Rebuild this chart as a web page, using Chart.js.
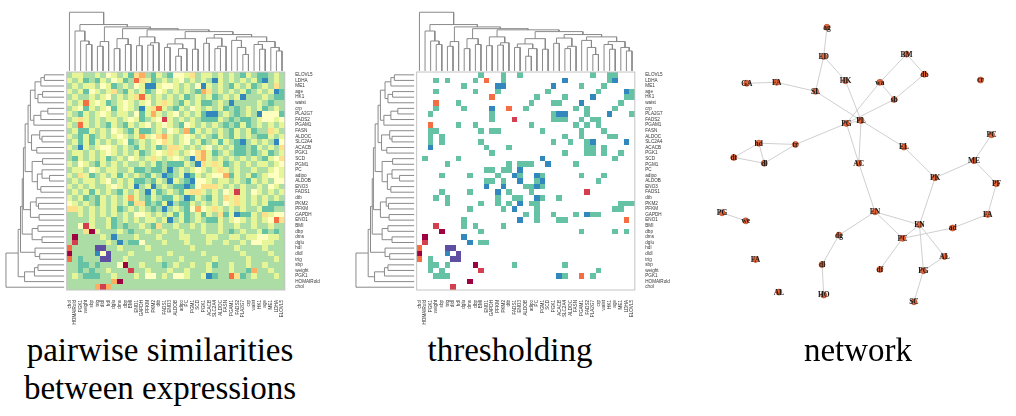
<!DOCTYPE html>
<html>
<head>
<meta charset="utf-8">
<script src="https://cdn.jsdelivr.net/npm/chart.js@4.4.1/dist/chart.umd.min.js"></script>
<style>
  html, body { margin: 0; padding: 0; background: #fff; }
  body { width: 1016px; height: 416px; position: relative; overflow: hidden; }
  canvas { position: absolute; }
  .cap { position: absolute; font-family: "Liberation Serif", "Times New Roman", serif; font-size: 33px;
         line-height: 38px; color: #000; text-align: center; white-space: nowrap; }
</style>
</head>
<body>
<canvas id="simChart" width="340" height="330" style="left:0px;top:0px"></canvas>
<canvas id="thrChart" width="340" height="330" style="left:350px;top:0px"></canvas>
<canvas id="netChart" width="356" height="320" style="left:660px;top:0px"></canvas>
<div class="cap" style="left:0px;width:320px;top:331px">pairwise similarities<br>between expressions</div>
<div class="cap" style="left:410px;width:200px;top:331px">thresholding</div>
<div class="cap" style="left:758px;width:200px;top:331px">network</div>
<script>
// row labels, top to bottom (columns run the other way)
var labels = ["ELOVL5","LDHA","ME1","age","HK1","waist","crp","PLA2G7","FADS2","PGAM1",
  "FASN","ALDOC","SLC2A4","ACACB","PGK1","SCD","PGM1","PC","adipo","ALDOB","ENO3","FADS1",
  "dtb","PKM2","PFKM","GAPDH","ENO1","BMI","dbp","dms","dglu","hdl","dldl","trig","sbp",
  "weight","PGK1","HOMAIRold","chol"];
var colLabels = labels.slice().reverse();

// spectral colour levels 0..a
var palette = ["#9E0142","#D53E4F","#F46D43","#FDAE61","#FEE08B","#FFFFBF",
  "#E6F598","#ABDDA4","#66C2A5","#3288BD","#5E4FA2"];

// similarity levels per row (one char per column, spaces only for reading)
var similarity = [
  "76677 67567 68437 86785 56476 67676 78678 8767",
  "67687 86756 87246 87676 57676 79676 76768 9767",
  "76766 75687 67569 96556 76759 67678 67687 6747",
  "67685 67647 86768 75676 76783 47676 76876 7698",
  "76776 76576 76426 76767 68767 68767 69777 6788",
  "67626 56876 56765 76467 86768 87679 77776 7877",
  "76586 76586 56796 42678 67567 67687 87676 8767",
  "67867 65676 67586 36765 76768 99767 87679 5558",
  "76467 67667 65687 65167 67678 88678 78876 5565",
  "67267 67867 86765 76567 85676 76787 86876 7676",
  "76886 76756 78688 76756 73867 67678 67687 7467",
  "67868 76765 67636 54367 65676 78678 67678 8676",
  "76868 67676 58767 65467 65768 76867 89767 6795",
  "67967 65567 67867 68744 67676 57676 88786 7674",
  "76676 76567 67687 65646 76543 68767 88787 6876",
  "78676 76876 75676 46765 67943 67676 76767 8654",
  "67567 86767 67767 68788 86794 64687 67676 6765",
  "76675 67667 76887 88797 67656 76467 67767 7656",
  "67468 76768 67678 67987 69867 65538 67687 6556",
  "76766 76576 76887 86796 78955 67667 67867 6755",
  "67676 77656 76976 97678 89854 44676 76776 7567",
  "76768 67678 67679 68767 86446 76756 16756 7676",
  "67687 86767 63678 67886 79867 86746 46767 6767",
  "56767 86767 68448 78697 88676 76756 46767 6888",
  "44676 76768 76767 87976 78535 64676 76776 8877",
  "77676 76767 67556 76768 68768 67486 98867 4655",
  "77776 77687 67676 67697 68767 88676 56767 6524",
  "77516 77687 87767 84776 77676 77677 67767 7677",
  "77740 67776 78776 77677 67776 77678 76776 8787",
  "70777 76797 77677 76777 66777 66776 67665 5667",
  "71777 77679 78857 77677 76777 67767 76755 6677",
  "27777 aa776 77776 77777 77677 77777 67777 6777",
  "07777 95a77 76777 77767 77776 77777 76777 7677",
  "27877 7aa77 67777 76777 67777 76777 77677 7767",
  "77887 87775 07767 77876 77677 68776 77677 6777",
  "77878 77677 71776 77767 76777 67776 77837 7677",
  "76788 87767 77675 57675 56776 98772 48767 7767",
  "77777 77730 77777 77777 77777 77777 77777 7777",
  "77777 31377 77777 77777 77777 77777 77777 7777"
];

// kept cells after thresholding, per row: "column:level"
var thresholded = [
  "11:8 15:8 18:8 31:8 34:8 35:8",
  "3:8 5:8 10:8 12:2 15:8 26:9 34:8 35:9",
  "8:8 14:9 15:9 24:9 29:8 33:8",
  "3:8 10:8 14:8 23:8 32:8 37:9 38:8",
  "13:2 21:8 26:8 31:9 37:8 38:8",
  "3:2 7:8 20:8 24:8 25:8 29:9 36:8",
  "3:8 8:8 13:9 16:2 19:8 28:8 30:8 35:8",
  "2:8 13:8 24:8 25:9 26:9 30:8 34:9 38:8",
  "13:8 17:1 24:8 25:8 26:8 29:8 31:8 32:8",
  "2:2 7:8 10:8 20:8 28:8 30:8 32:8",
  "2:8 3:8 11:8 13:8 14:8 22:8 29:8 33:8",
  "2:8 4:8 26:8 29:8 34:8 35:8",
  "2:8 4:8 11:8 24:8 27:8 30:8 31:9 37:9",
  "2:9 12:8 16:8 30:8 31:8 33:8",
  "13:8 26:8 30:8 31:8 33:8 36:8",
  "1:8 7:8 22:9 35:8",
  "5:8 16:8 18:8 19:8 20:8 23:9 28:8",
  "12:8 13:8 15:8 16:8 18:9",
  "4:8 9:8 14:8 17:9 18:8 21:9 22:8 29:8 33:8",
  "12:8 13:8 15:8 18:9 21:8 22:9 32:8",
  "12:9 15:9 19:8 20:8 21:9 22:8",
  "4:8 9:8 14:9 16:8 20:8 30:1",
  "3:8 5:8 14:8 17:8 18:8 21:9 22:8 25:8",
  "5:8 11:8 14:8 16:8 18:9 20:8 21:8 36:8 37:8 38:8",
  "9:8 15:8 17:9 21:8 35:8 36:8",
  "19:8 21:8 24:8 28:8 30:9 31:8 32:8",
  "8:8 18:9 21:8 25:8 26:8 37:2",
  "3:1 8:8 10:8 15:8",
  "4:0 11:8 29:8 35:8 37:8",
  "1:0 8:9",
  "1:1 9:9 11:8 12:8",
  "0:2 5:a 6:a",
  "0:0 5:9 7:a",
  "0:2 2:8 6:a 7:a",
  "2:8 3:8 5:8 10:0 17:8 26:8",
  "2:8 4:8 11:1 32:8",
  "3:8 4:8 5:8 25:9 26:8 29:2 31:8",
  "9:0",
  "6:1"
];

// clustering tree over column positions: [left, right, height]
var clinicalA = [1, [2, [3, 4, 0.45], 0.51], 0.68];
var lipids = [[5, 6, 0.42], 7, 0.50];
var clinicalB = [[8, 9, 0.38], [10, 11, 0.45], 0.55];
var glyco = [[12, 13, 0.43], [[14, 15, 0.44], 16, 0.48], 0.58];
var genesA = [[[17, 18, 0.40], [[19, 20, 0.25], 21, 0.38], 0.46], [22, 23, 0.37], 0.55];
var genesB = [[24, 25, 0.47], [[26, 27, 0.38], 28, 0.42], 0.56];
var genesC = [[29, [30, [31, 32, 0.28], 0.40], 0.52],
              [[33, [34, 35, 0.37], 0.45], [36, [37, 38, 0.34], 0.40], 0.50], 0.58];
var tree = [0, [clinicalA, [lipids, [clinicalB, [glyco, [genesA, [genesB, genesC, 0.62],
  0.67], 0.70], 0.72], 0.75], 0.79], 1.0];

// network: label, x, y (layout units)
var nodes = [
  ["ag",500,70],["ED",490,160],["HK",557,235],["BM",745,153],["db",800,215],["cr",973,233],
  ["GA",253,243],["FA",345,240],["SL",465,268],["wa",663,240],["sb",707,293],["PG",560,367],
  ["PL",605,358],["hd",290,428],["tr",403,432],["dt",213,472],["dl",307,490],["AC",598,490],
  ["EL",737,440],["PC",1007,402],["ME",953,482],["PK",833,535],["PF",1022,553],["PG",177,643],
  ["we",250,668],["EN",648,640],["FA",995,648],["EN",785,680],["ad",887,690],["dg",537,712],
  ["PC",733,722],["AL",862,778],["FA",280,787],["dl",485,803],["df",663,818],["PG",797,822],
  ["AL",352,888],["HO",490,897],["SC",768,918]
];
var edges = [[0,1],[1,2],[1,8],[2,12],[3,9],[3,4],[4,10],[9,10],[9,11],[10,11],[6,7],[7,8],
  [8,12],[11,12],[11,14],[13,14],[13,15],[13,16],[15,16],[16,14],[11,17],[12,17],[12,18],
  [18,21],[21,20],[20,19],[20,22],[22,26],[26,28],[28,30],[17,25],[25,27],[25,30],[25,29],
  [29,33],[33,37],[27,30],[21,27],[27,31],[27,35],[31,35],[35,38],[30,34],[23,24]];

Chart.defaults.font.family = '"Liberation Sans", Arial, sans-serif';
Chart.defaults.animation = false;

function thresholdGrid() {
  return thresholded.map(function(s) {
    var row = [];
    for (var j = 0; j < 39; j++) row.push('.');
    s.split(' ').forEach(function(e) {
      if (!e) return;
      var p = e.split(':');
      row[+p[0]] = p[1];
    });
    return row.join('');
  });
}

function dendroLinks(node, out) {
  if (typeof node === 'number') return { pos: node + 0.5, h: 0 };
  var l = dendroLinks(node[0], out), r = dendroLinks(node[1], out);
  out.push([l, r, node[2]]);
  return { pos: (l.pos + r.pos) / 2, h: node[2] };
}

function dendroDatasets() {
  var links = [];
  dendroLinks(tree, links);
  var top = function(h) { return 39.2 + h * 10.5; };
  var side = function(h) { return -0.45 - h * 10.4; };
  var sets = [];
  links.forEach(function(k) {
    var l = k[0], r = k[1], h = k[2];
    sets.push({ data: [{x: l.pos, y: top(l.h)}, {x: l.pos, y: top(h)}, {x: r.pos, y: top(h)}, {x: r.pos, y: top(r.h)}] });
    sets.push({ data: [{x: side(l.h), y: l.pos}, {x: side(h), y: l.pos}, {x: side(h), y: r.pos}, {x: side(r.h), y: r.pos}] });
  });
  sets.forEach(function(d) {
    d.showLine = true; d.pointRadius = 0; d.borderWidth = 1;
    d.borderColor = '#8a8a8a'; d.tension = 0;
  });
  return sets;
}

function heatmapChart(id, grid) {
  var cells = {
    id: 'cells',
    beforeDatasetsDraw: function(chart) {
      var xs = chart.scales.x, ys = chart.scales.y, ctx = chart.ctx;
      ctx.save();
      grid.forEach(function(row, i) {
        for (var j = 0; j < row.length; j++) {
          var c = row[j];
          if (c === '.') continue;
          var x0 = Math.round(xs.getPixelForValue(j)), x1 = Math.round(xs.getPixelForValue(j + 1));
          var y0 = Math.round(ys.getPixelForValue(39 - i)), y1 = Math.round(ys.getPixelForValue(38 - i));
          ctx.fillStyle = palette[parseInt(c, 16)];
          ctx.fillRect(x0, y0, x1 - x0, y1 - y0);
        }
      });
      ctx.strokeStyle = '#c4c4c4';
      ctx.lineWidth = 1;
      var l = xs.getPixelForValue(0), r = xs.getPixelForValue(39);
      var t = ys.getPixelForValue(39), b = ys.getPixelForValue(0);
      ctx.strokeRect(l, t, r - l, b - t);
      ctx.restore();
    }
  };
  return new Chart(document.getElementById(id), {
    type: 'scatter',
    data: { datasets: dendroDatasets() },
    options: {
      responsive: false,
      events: [],
      layout: { padding: { left: 4, top: 10, right: 0, bottom: 0 } },
      plugins: { legend: { display: false }, tooltip: { enabled: false } },
      scales: {
        x: {
          type: 'linear', min: -11.2, max: 39,
          grid: { display: false }, border: { display: false },
          afterBuildTicks: function(s) { s.ticks = colLabels.map(function(_, j) { return { value: j + 0.5 }; }); },
          afterFit: function(s) { s.height = 40; },
          ticks: {
            autoSkip: false, minRotation: 90, maxRotation: 90, padding: 2,
            font: { size: 4.6 }, color: '#333',
            callback: function(v) { return colLabels[Math.round(v - 0.5)]; }
          }
        },
        y: {
          type: 'linear', position: 'right', min: 0, max: 50.1,
          grid: { display: false }, border: { display: false },
          afterBuildTicks: function(s) { s.ticks = labels.map(function(_, i) { return { value: 38.5 - i }; }); },
          afterFit: function(s) { s.width = 55.2; },
          ticks: {
            autoSkip: false, padding: 2.5,
            font: { size: 4.6 }, color: '#333',
            callback: function(v) { return labels[Math.round(38.5 - v)]; }
          }
        }
      }
    },
    plugins: [cells]
  });
}

heatmapChart('simChart', similarity.map(function(s) { return s.replace(/ /g, ''); }));
heatmapChart('thrChart', thresholdGrid());

// network
var nodeLabels = {
  id: 'nodeLabels',
  afterDatasetsDraw: function(chart) {
    var xs = chart.scales.x, ys = chart.scales.y, ctx = chart.ctx;
    ctx.save();
    ctx.font = 'bold 7.5px "Liberation Serif", serif';
    ctx.fillStyle = '#1a1a1a';
    ctx.textAlign = 'center';
    ctx.textBaseline = 'middle';
    nodes.forEach(function(n) {
      ctx.fillText(n[0], xs.getPixelForValue(n[1]), ys.getPixelForValue(n[2]) + 0.5);
    });
    ctx.restore();
  }
};

var netSets = [{
  data: nodes.map(function(n) { return { x: n[1], y: n[2] }; }),
  pointRadius: 3, backgroundColor: '#EE6536', borderColor: '#9a3a18', borderWidth: 0.6
}];
edges.forEach(function(e) {
  var a = nodes[e[0]], b = nodes[e[1]];
  netSets.push({
    data: [{ x: a[1], y: a[2] }, { x: b[1], y: b[2] }],
    showLine: true, pointRadius: 0, borderColor: '#c9c9c9', borderWidth: 0.9
  });
});

new Chart(document.getElementById('netChart'), {
  type: 'scatter',
  data: { datasets: netSets },
  options: {
    responsive: false,
    events: [],
    layout: { padding: 0 },
    plugins: { legend: { display: false }, tooltip: { enabled: false } },
    scales: {
      x: { type: 'linear', min: 0, max: 1068, display: false },
      y: { type: 'linear', min: 0, max: 960, reverse: true, display: false }
    }
  },
  plugins: [nodeLabels]
});
</script>
</body>
</html>
